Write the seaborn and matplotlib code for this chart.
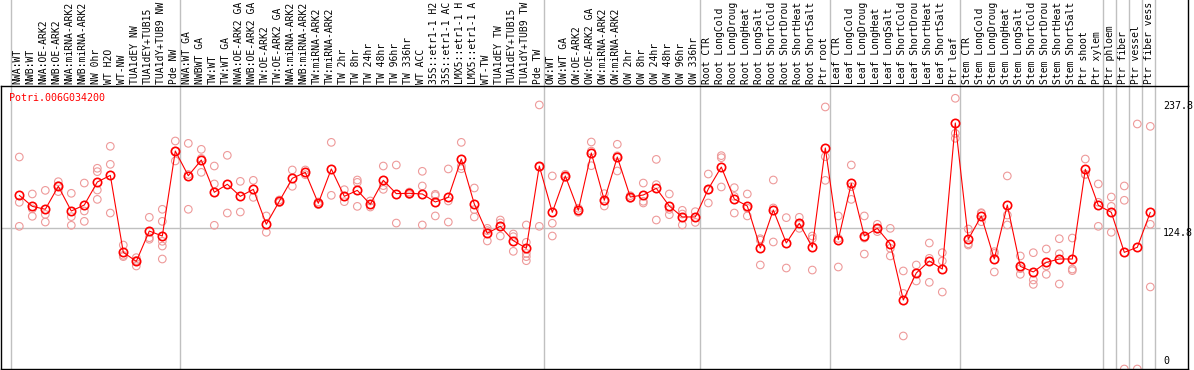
import matplotlib
matplotlib.use("Agg")
import matplotlib.pyplot as plt
import matplotlib.transforms as mtransforms
import seaborn as sns
import numpy as np
import pandas as pd

gene = "Potri.006G034200"

# sample names as they show in the header (long ones are cut at 14 chars there)
samples = [
    "NWA:WT", "NWB:WT", "NWA:OE-ARK2", "NWB:OE-ARK2", "NWA:miRNA-ARK2", "NWB:miRNA-ARK2",
    "NW 0hr", "WT H2O", "WT-NW", "TUA1dEY NW", "TUA1dEY+TUB15", "TUA1dY+TUB9 NW", "Pde NW",
    "NWA:WT GA", "NWBWT GA", "TW:WT", "TW:WT GA", "NWA:OE-ARK2 GA", "NWB:OE-ARK2 GA",
    "TW:OE-ARK2", "TW:OE-ARK2 GA", "NWA:miRNA-ARK2", "NWB:miRNA-ARK2", "TW:miRNA-ARK2",
    "TW:miRNA-ARK2", "TW 2hr", "TW 8hr", "TW 24hr", "TW 48hr", "TW 96hr", "TW 336hr",
    "WT ACC", "35S::etr1-1 H2", "35S::etr1-1 AC", "LMX5::etr1-1 H", "LMX5::etr1-1 A",
    "WT-TW", "TUA1dEY TW", "TUA1dEY+TUB15", "TUA1dY+TUB9 TW", "Pde TW",
    "OW:WT", "OW:WT GA", "OW:OE-ARK2", "OW:OE-ARK2 GA", "OW:miRNA-ARK2", "OW:miRNA-ARK2",
    "OW 2hr", "OW 8hr", "OW 24hr", "OW 48hr", "OW 96hr", "OW 336hr",
    "Root CTR", "Root LongCold", "Root LongDroug", "Root LongHeat", "Root LongSalt",
    "Root ShortCold", "Root ShortDrou", "Root ShortHeat", "Root ShortSalt", "Ptr root",
    "Leaf CTR", "Leaf LongCold", "Leaf LongDroug", "Leaf LongHeat", "Leaf LongSalt",
    "Leaf ShortCold", "Leaf ShortDrou", "Leaf ShortHeat", "Leaf ShortSalt", "Ptr leaf",
    "Stem CTR", "Stem LongCold", "Stem LongDroug", "Stem LongHeat", "Stem LongSalt",
    "Stem ShortCold", "Stem ShortDrou", "Stem ShortHeat", "Stem ShortSalt", "Ptr shoot",
    "Ptr xylem", "Ptr phloem", "Ptr fiber", "Ptr vessel", "Ptr fiber vess",
]

means = [
    154.1, 144.3, 141.7, 162.1, 140.2, 145.5, 165.9, 171.8, 103.5, 95.5,
    122.4, 118.0, 193.4, 171.5, 185.4, 156.8, 163.9, 153.2, 159.4, 128.4,
    148.8, 169.2, 174.5, 147.0, 177.5, 153.2, 158.5, 146.1, 167.4, 155.6,
    155.9, 155.3, 148.2, 152.3, 186.3, 146.4, 120.4, 126.6, 113.9, 107.1,
    180.1, 139.0, 171.3, 140.8, 191.7, 149.7, 188.1, 152.6, 154.4, 160.3,
    144.6, 134.9, 134.9, 159.7, 179.2, 150.8, 144.6, 107.4, 141.1, 111.8,
    129.3, 108.0, 196.1, 114.8, 164.7, 118.0, 124.8, 110.9, 61.2, 85.2,
    95.8, 88.7, 218.3, 115.1, 135.8, 97.6, 145.5, 91.1, 86.1, 94.6,
    97.6, 97.6, 177.2, 145.2, 139.0, 103.5, 108.0, 139.0,
]

replicates = [
    [188.1, 147.9, 126.6], [155.3, 135.5, 142.1], [158.5, 137.2, 130.4],
    [166.2, 157.4, 162.7], [155.9, 135.2, 127.5], [165.0, 140.2, 131.0],
    [178.1, 175.1, 158.8, 150.5], [197.6, 181.6, 138.4], [110.0, 99.7, 100.8],
    [98.8, 91.4, 96.3], [134.6, 116.5, 115.1], [141.7, 131.0, 113.3, 109.1, 97.6],
    [202.3, 184.6, 193.3], [200.2, 141.7, 172.6], [194.9, 174.5, 186.8],
    [180.1, 164.2, 127.5], [189.6, 138.4], [166.5, 139.3], [167.4, 152.3],
    [135.8, 121.3], [150.0, 147.6], [176.6, 162.1], [176.6, 172.4], [148.2, 145.8],
    [201.1, 154.1], [159.1, 148.5], [167.7, 165.6, 144.3], [149.1, 143.7],
    [180.1, 159.4, 162.7], [181.0, 129.5], [157.0, 154.8], [175.4, 162.4, 127.8],
    [155.0, 135.8, 153.8], [177.5, 149.1, 130.4], [201.1, 180.1, 177.7],
    [160.6, 141.4, 134.9], [124.8, 113.6, 122.8], [132.2, 118.0, 129.6],
    [119.8, 117.4, 104.4], [127.8, 112.4, 102.6, 99.7, 96.1], [234.3, 126.6, 179.4],
    [171.3, 129.3, 118.0], [172.7, 170.0], [142.6, 139.0], [201.4, 180.4, 193.3],
    [155.6, 144.6, 148.9], [199.4, 175.7, 189.2], [153.8, 151.4],
    [165.0, 148.8, 147.3], [186.0, 163.6, 132.2], [155.3, 136.9, 141.6],
    [140.8, 137.5, 127.8], [139.6, 130.1], [173.0, 147.3, 158.8],
    [189.3, 187.5, 161.5], [160.9, 138.4, 153.1], [155.3, 135.8, 142.7],
    [115.6, 92.3, 114.3], [167.7, 112.7, 142.9], [134.3, 89.6],
    [134.6, 124.8, 128.5], [118.0, 115.6, 87.8], [232.5, 188.4, 167.4],
    [135.8, 115.9, 90.5], [181.0, 161.8, 150.5], [135.8, 102.0, 116.2],
    [128.4, 121.9, 124.1], [124.8, 107.1, 100.3], [87.0, 67.1, 29.3],
    [92.3, 78.1, 85.2], [111.8, 98.2, 76.9], [103.2, 95.8, 68.3],
    [240.2, 209.1, 204.7], [124.2, 110.0, 111.1], [138.7, 130.7, 138.0],
    [104.1, 86.1, 102.6], [171.3, 136.6, 127.8], [100.3, 84.0, 89.0],
    [103.2, 79.0, 75.1], [106.5, 91.4, 84.0], [115.6, 102.3, 75.4],
    [116.2, 88.7, 87.3], [186.3, 172.7, 172.6], [164.2, 147.9, 126.6],
    [152.6, 144.3, 121.3], [162.4, 149.7, 0.0], [217.4, 0.0],
    [215.3, 128.4, 72.8],
]

# first sample index of every block (last entry closes the final block)
group_starts = [0, 13, 41, 53, 63, 73, 84, 85, 86, 87, 88]
ref_value = 124.8
max_value = 237.8

sns.set_style("white")
plt.rcParams["font.family"] = ["DejaVu Sans Mono"]

W, H = 1194, 370
fig = plt.figure(figsize=(W / 100, H / 100), dpi=100)
ax = fig.add_axes([1 / W, 1 / H, 1187 / W, 283 / H])

idx = np.arange(len(samples))
mean_df = pd.DataFrame({"pos": idx, "value": means})
rep_df = pd.DataFrame(
    [(i, v) for i, vals in enumerate(replicates) for v in vals],
    columns=["pos", "value"],
)

sns.scatterplot(data=rep_df, x="pos", y="value", ax=ax, s=30, marker="o",
                linewidth=0.8, zorder=2, legend=False)
pts = ax.collections[-1]
pts.set_facecolor("none")
pts.set_edgecolor("#ee9a9a")

sns.lineplot(data=mean_df, x="pos", y="value", ax=ax, color="red", lw=0.8,
             marker="o", markersize=6, markerfacecolor="none",
             markeredgecolor="red", markeredgewidth=1.2, estimator=None,
             zorder=3)

ax.set_xlim(-1.408, 89.9)
ax.set_ylim(0, 251.1)
ax.set_xticks([])
ax.set_yticks([])
ax.set_xlabel("")
ax.set_ylabel("")
for sp in ax.spines.values():
    sp.set_color("black")
    sp.set_linewidth(1.0)

# block separators run up through the label header
sep_x = [g - 0.62 for g in group_starts]
ax.vlines(sep_x, 0, 1.31, transform=ax.get_xaxis_transform(),
          color="#c0c0c0", lw=1.0, clip_on=False, zorder=0)
ax.plot([1, 1], [1, 1.31], transform=ax.transAxes, color="black",
        lw=1.0, clip_on=False)
ax.hlines(ref_value, -1.408, 87.75, color="#c0c0c0", lw=1.0, zorder=1)

trans = ax.get_xaxis_transform()
for i, lab in enumerate(samples):
    ax.text(i - 0.12, 1 + 2 / 283, lab, transform=trans, rotation=90,
            ha="center", va="bottom", fontsize=7.0, color="black",
            clip_on=False)

ax.text(0.007, 0.975, gene, transform=ax.transAxes, ha="left", va="top",
        fontsize=7.2, color="red")

lab_x = (1163 - 1) / 1187
ytrans = mtransforms.blended_transform_factory(ax.transAxes, ax.transData)
ax.text(lab_x, max_value, f"{max_value}", transform=ytrans, ha="left",
        va="top", fontsize=7.2, color="black", clip_on=False)
ax.text(lab_x, ref_value, f"{ref_value}", transform=ytrans, ha="left",
        va="top", fontsize=7.2, color="black", clip_on=False)
ax.text(lab_x, 3, "0", transform=ytrans, ha="left", va="bottom",
        fontsize=7.2, color="black", clip_on=False)

fig.savefig("out.png", dpi=100)
plt.close(fig)
